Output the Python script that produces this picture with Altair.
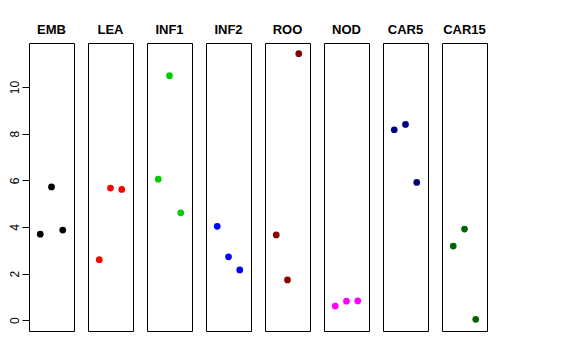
import altair as alt
import pandas as pd

tissues = ["EMB", "LEA", "INF1", "INF2", "ROO", "NOD", "CAR5", "CAR15"]
colors = ["#000000", "#FF0000", "#00CD00", "#0000FF", "#8B0000", "#FF00FF", "#000080", "#006400"]
positions = [1, 2, 3]
values = {
    "EMB": [3.69, 5.72, 3.87],
    "LEA": [2.60, 5.67, 5.61],
    "INF1": [6.05, 10.49, 4.61],
    "INF2": [4.03, 2.72, 2.16],
    "ROO": [3.66, 1.73, 11.43],
    "NOD": [0.61, 0.82, 0.83],
    "CAR5": [8.17, 8.40, 5.91],
    "CAR15": [3.18, 3.91, 0.04],
}
y_ticks = [0, 2, 4, 6, 8, 10]

rows = []
for t in tissues:
    for p, v in zip(positions, values[t]):
        rows.append({"tissue": t, "idx": p, "val": v})
df = pd.DataFrame(rows)

base = alt.Chart(df).mark_circle(size=45, opacity=1).encode(
    x=alt.X("idx:Q", scale=alt.Scale(domain=[0, 4], nice=False, zero=False), axis=None),
    y=alt.Y(
        "val:Q",
        scale=alt.Scale(domain=[-0.46, 11.89], nice=False, zero=False),
        axis=alt.Axis(
            values=y_ticks,
            title=None,
            grid=False,
            domain=False,
            ticks=True,
            tickSize=7,
            tickColor="black",
            labelAngle=270,
            labelAlign="center",
            labelBaseline="bottom",
            labelPadding=1,
            labelFontSize=12,
            labelFont="Liberation Sans",
            labelColor="black",
        ),
    ),
    color=alt.Color("tissue:N", scale=alt.Scale(domain=tissues, range=colors), legend=None),
).properties(width=45, height=288)

chart = base.facet(
    column=alt.Column(
        "tissue:N",
        sort=tissues,
        header=alt.Header(
            title=None,
            labelFontWeight="bold",
            labelFontSize=13,
            labelFont="Liberation Sans",
            labelColor="black",
            labelPadding=6,
        ),
    ),
    spacing=14,
    bounds="flush",
).configure_view(stroke="black", strokeWidth=1).properties(
    padding={"left": 0, "top": 16, "right": 5, "bottom": 5}
)

chart.save("out.html", embed_options={"renderer": "svg", "actions": False})
